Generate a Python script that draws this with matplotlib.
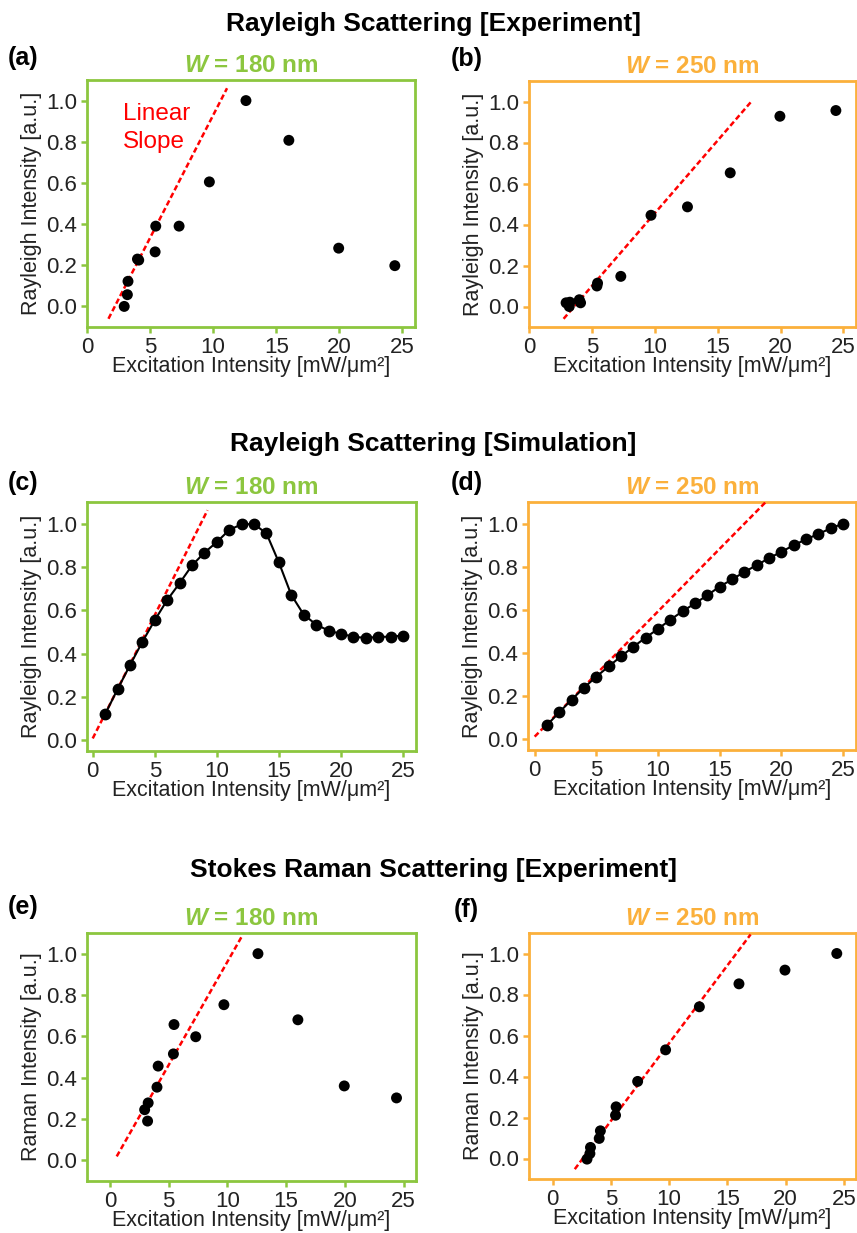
import matplotlib
matplotlib.use("Agg")
import matplotlib.pyplot as plt

plt.rcParams['font.family'] = ['Liberation Sans', 'DejaVu Sans']
plt.rcParams['mathtext.fontset'] = 'custom'
plt.rcParams['mathtext.it'] = 'Liberation Sans:italic:bold'
plt.rcParams['mathtext.rm'] = 'Liberation Sans:bold'

GREEN = '#8cc63f'
ORANGE = '#fbb03b'

# experiment excitation intensities
exp_x = [2.95, 3.2, 3.25, 4.0, 4.1, 5.4, 5.45, 7.3, 9.7, 12.6, 16.0, 19.95, 24.4]
ray_exp_180 = [0.0, 0.057, 0.122, 0.23, 0.225, 0.265, 0.39, 0.39, 0.605, 1.0, 0.807, 0.283, 0.198]
ray_exp_250 = [0.018, 0.0, 0.021, 0.033, 0.018, 0.10, 0.114, 0.147, 0.445, 0.486, 0.652, 0.928, 0.956]
ram_exp_180 = [0.245, 0.19, 0.278, 0.354, 0.456, 0.515, 0.657, 0.598, 0.753, 1.0, 0.68, 0.36, 0.302]
ram_exp_250 = [-0.003, 0.024, 0.054, 0.098, 0.135, 0.211, 0.252, 0.376, 0.53, 0.74, 0.852, 0.919, 1.0]

# simulation
sim_x = list(range(1, 26))
ray_sim_180 = [0.12, 0.235, 0.346, 0.454, 0.554, 0.647, 0.725, 0.807, 0.866, 0.915,
               0.971, 0.997, 0.998, 0.955, 0.821, 0.671, 0.580, 0.534, 0.506, 0.491,
               0.478, 0.472, 0.477, 0.478, 0.483]
ray_sim_250 = [0.066, 0.125, 0.184, 0.239, 0.29, 0.338, 0.384, 0.429, 0.471, 0.512,
               0.554, 0.594, 0.63, 0.668, 0.708, 0.741, 0.776, 0.807, 0.84, 0.869,
               0.9, 0.927, 0.952, 0.978, 1.0]

# linear slope guide lines (end points)
lin_a = ([1.7, 11.1], [-0.06, 1.06])
lin_b = ([2.75, 17.75], [-0.06, 1.005])
lin_c = ([0.0, 9.25], [0.008, 1.062])
lin_d = ([0.0, 18.9], [0.012, 1.11])
lin_e = ([0.57, 11.28], [0.019, 1.089])
lin_f = ([1.9, 17.0], [-0.052, 1.093])

W, H = 857, 1233
fig = plt.figure(figsize=(W / 100, H / 100), dpi=100)


def rect(l, t, r, b):
    return [l / W, 1 - b / H, (r - l) / W, (b - t) / H]


def make_panel(box, color, wlabel, letter, letter_xy, ylabel, xlim, ylim):
    ax = fig.add_axes(rect(*box))
    for s in ax.spines.values():
        s.set_color(color)
        s.set_linewidth(2)
    ax.set_xlim(*xlim)
    ax.set_ylim(*ylim)
    ax.set_xticks([0, 5, 10, 15, 20, 25])
    ax.set_yticks([0.0, 0.2, 0.4, 0.6, 0.8, 1.0])
    ax.set_yticklabels(['0.0', '0.2', '0.4', '0.6', '0.8', '1.0'])
    ax.tick_params(direction='out', length=4, width=1.8, color=color,
                   labelsize=16, labelcolor='#222222', pad=3)
    ax.set_xlabel('Excitation Intensity [mW/μm²]', fontsize=15.5, color='#222222', labelpad=-1)
    ax.set_ylabel(ylabel, fontsize=15.5, color='#222222', labelpad=3)
    ax.set_title(r'$\mathit{W}$ = ' + wlabel, color=color, fontsize=17.5,
                 fontweight='bold', pad=6)
    fig.text(letter_xy[0] / W, 1 - letter_xy[1] / H, letter, fontsize=18,
             fontweight='bold', ha='left', va='center')
    return ax


dash = dict(color='red', lw=1.8, ls=(0, (2.2, 1.2)), zorder=3)
dot = dict(color='black', s=62, zorder=4, edgecolors='none')

# section titles
for txt, yb in [('Rayleigh Scattering [Experiment]', 31),
                ('Rayleigh Scattering [Simulation]', 451),
                ('Stokes Raman Scattering [Experiment]', 877)]:
    fig.text(433 / W, 1 - yb / H, txt, fontsize=19, fontweight='bold',
             ha='center', va='baseline')

# (a)
ax = make_panel((87, 80, 415, 327), GREEN, '180 nm', '(a)', (8, 58),
                'Rayleigh Intensity [a.u.]', (0, 26), (-0.1, 1.1))
ax.plot(*lin_a, **dash)
ax.scatter(exp_x, ray_exp_180, **dot)
ax.text(2.85, 0.99, 'Linear\nSlope', color='red', fontsize=17.5, ha='left',
        va='top', linespacing=1.4)

# (b)
ax = make_panel((529, 81, 856, 327), ORANGE, '250 nm', '(b)', (451, 59),
                'Rayleigh Intensity [a.u.]', (0, 26), (-0.1, 1.1))
ax.plot(*lin_b, **dash)
ax.scatter(exp_x, ray_exp_250, **dot)

# (c)
ax = make_panel((87, 502, 416, 751), GREEN, '180 nm', '(c)', (8, 483),
                'Rayleigh Intensity [a.u.]', (-0.46, 26.05), (-0.05, 1.1))
ax.plot(sim_x, ray_sim_180, color='black', lw=1.5, marker='o', ms=7.5, zorder=4)
ax.plot(*lin_c, **dash)

# (d)
ax = make_panel((528, 502, 856, 750), ORANGE, '250 nm', '(d)', (451, 483),
                'Rayleigh Intensity [a.u.]', (-0.54, 26.04), (-0.05, 1.1))
ax.plot(sim_x, ray_sim_250, color='black', lw=1.5, marker='o', ms=7.5, zorder=4)
ax.plot(*lin_d, **dash)

# (e)
ax = make_panel((87, 933, 416, 1181), GREEN, '180 nm', '(e)', (8, 907),
                'Raman Intensity [a.u.]', (-1.96, 26.06), (-0.1, 1.1))
ax.plot(*lin_e, **dash)
ax.scatter(exp_x, ram_exp_180, **dot)

# (f)
ax = make_panel((529, 933, 856, 1179), ORANGE, '250 nm', '(f)', (454, 910),
                'Raman Intensity [a.u.]', (-2.03, 26.05), (-0.1, 1.1))
ax.plot(*lin_f, **dash)
ax.scatter(exp_x, ram_exp_250, **dot)

fig.savefig('out.png', dpi=100)
